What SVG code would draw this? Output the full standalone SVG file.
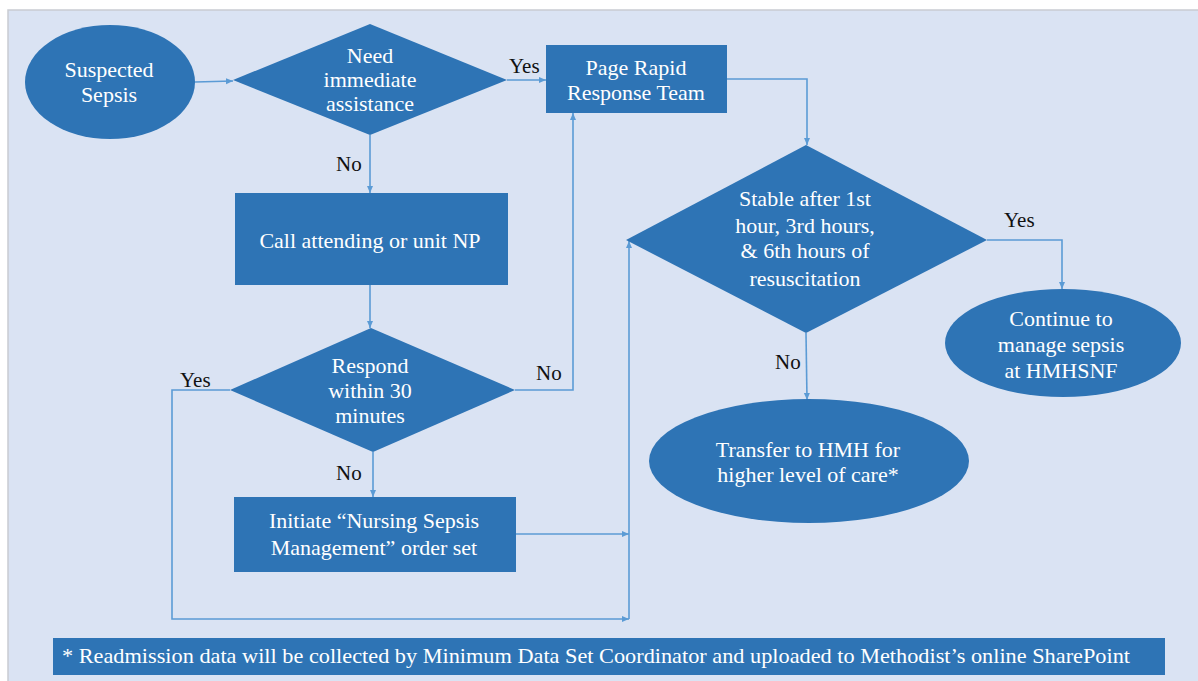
<svg xmlns="http://www.w3.org/2000/svg" width="1198" height="681" viewBox="0 0 1198 681">
<defs>
<marker id="ah" markerUnits="userSpaceOnUse" markerWidth="8" markerHeight="8" refX="7" refY="4" orient="auto">
<path d="M0,1 L7,4 L0,7 Z" fill="#5b9bd5"/>
</marker>
</defs>
<style>
.node{fill:#2e74b5;}
.t{font-size:22px;fill:#fff;text-anchor:middle;}
.lbl{font-size:21px;fill:#111;}
.c{fill:none;stroke:#5b9bd5;stroke-width:1.6;marker-end:url(#ah);}
</style>
<rect x="0" y="0" width="1198" height="681" fill="#ffffff"/>
<rect x="8" y="10" width="1192" height="673" fill="#dae3f3" stroke="#c9ccd2" stroke-width="1.5"/>

<g font-family="Liberation Serif, Tinos, Times New Roman, DejaVu Serif, serif">
<g id="connectors">
<path class="c" d="M195,82 L233,81"/>
<path class="c" d="M507,80 L546,80"/>
<path class="c" d="M727,79 L807,79 L807,145"/>
<path class="c" d="M370,135 L370,193"/>
<path class="c" d="M370,285 L370,328"/>
<path class="c" d="M515,390 L573,390 L573,113"/>
<path class="c" d="M230,390 L172,390 L172,619 L629,619"/>
<path class="c" d="M373,452 L373,497"/>
<path class="c" d="M516,534 L629,534"/>
<path class="c" d="M629,619 L629,241"/>
<path class="c" d="M987,240 L1062,240 L1062,289"/>
<path class="c" d="M806,333 L807,400"/>
<text class="lbl" x="509" y="73">Yes</text>
<text class="lbl" x="336" y="171">No</text>
<text class="lbl" x="536" y="380">No</text>
<text class="lbl" x="180" y="387">Yes</text>
<text class="lbl" x="336" y="480">No</text>
<text class="lbl" x="1004" y="227">Yes</text>
<text class="lbl" x="775" y="369">No</text>
</g>

<g id="suspected-sepsis">
<ellipse class="node" cx="110" cy="82" rx="85" ry="57"/>
<text class="t" x="109" y="77">Suspected</text>
<text class="t" x="109" y="102">Sepsis</text>
</g>

<g id="need-assistance">
<polygon class="node" points="370,24 507,80 370,135 233,80"/>
<text class="t" x="370" y="63">Need</text>
<text class="t" x="370" y="87">immediate</text>
<text class="t" x="370" y="111">assistance</text>
</g>

<g id="page-rapid">
<rect class="node" x="546" y="45" width="181" height="68"/>
<text class="t" x="636" y="75">Page Rapid</text>
<text class="t" x="636" y="100">Response Team</text>
</g>

<g id="call-attending">
<rect class="node" x="235" y="193" width="273" height="92"/>
<text class="t" x="370" y="248">Call attending or unit NP</text>
</g>

<g id="respond-30">
<polygon class="node" points="371,328 515,390 373,452 230,390"/>
<text class="t" x="370" y="373">Respond</text>
<text class="t" x="370" y="398">within 30</text>
<text class="t" x="370" y="423">minutes</text>
</g>

<g id="initiate-order-set">
<rect class="node" x="234" y="497" width="282" height="75"/>
<text class="t" x="374" y="528">Initiate “Nursing Sepsis</text>
<text class="t" x="374" y="555">Management” order set</text>
</g>

<g id="stable-after">
<polygon class="node" points="806,145 987,240 806,333 626,240"/>
<text class="t" x="805" y="206">Stable after 1st</text>
<text class="t" x="805" y="233">hour, 3rd hours,</text>
<text class="t" x="805" y="258">&amp; 6th hours of</text>
<text class="t" x="805" y="286">resuscitation</text>
</g>

<g id="continue-manage">
<ellipse class="node" cx="1063" cy="343" rx="118" ry="54"/>
<text class="t" x="1061" y="326">Continue to</text>
<text class="t" x="1061" y="352">manage sepsis</text>
<text class="t" x="1061" y="378">at HMHSNF</text>
</g>

<g id="transfer-hmh">
<ellipse class="node" cx="809" cy="461" rx="160" ry="62"/>
<text class="t" x="808" y="457">Transfer to HMH for</text>
<text class="t" x="808" y="482">higher level of care*</text>
</g>

<g id="footnote">
<rect class="node" x="53" y="638" width="1112" height="37"/>
<text class="t" x="62" y="663" style="text-anchor:start" textLength="1068" lengthAdjust="spacingAndGlyphs">* Readmission data will be collected by Minimum Data Set Coordinator and uploaded to Methodist’s online SharePoint</text>
</g>
</g>
</svg>
